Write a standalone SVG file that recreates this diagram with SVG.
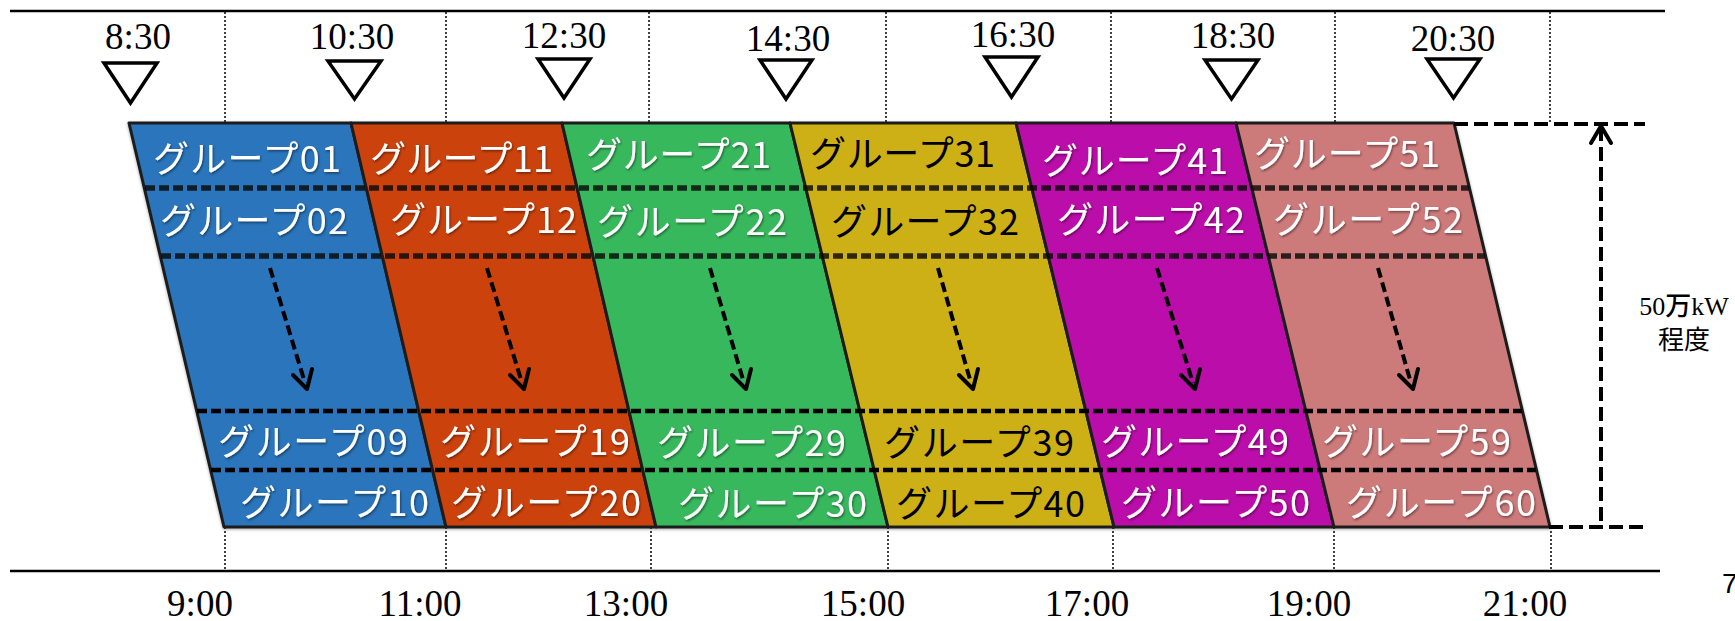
<svg xmlns="http://www.w3.org/2000/svg" width="1735" height="621" viewBox="0 0 1735 621">
<defs>
<style>
.axis{stroke:#000;stroke-width:2.5;fill:none}
.dot{stroke:#111;stroke-width:1.6;stroke-dasharray:2 2;fill:none}
.tick{fill:#fff;stroke:#000;stroke-width:3.5;stroke-linejoin:miter}
.time{font-family:"Liberation Serif","Times New Roman",serif;font-size:37px;fill:#000;text-anchor:middle}
.band{stroke:#1e1e1e;stroke-width:3;stroke-linejoin:round}
.rowU{stroke:#0a0a0a;stroke-opacity:0.82;stroke-width:5.5;stroke-dasharray:10 4;fill:none}
.rowL{stroke:#000;stroke-width:4.5;stroke-dasharray:10 4;fill:none}
.lbl{font-family:"Noto Sans CJK JP","Noto Sans",sans-serif;font-size:36px;fill:#fff;filter:url(#sh)}
.lblk{font-family:"Noto Sans CJK JP","Noto Sans",sans-serif;font-size:36px;fill:#000}
.arr{stroke:#000;stroke-width:4;stroke-dasharray:10 5;fill:none}
.head{stroke:#000;stroke-width:4;fill:none;stroke-linecap:round;stroke-linejoin:round}
.dim{stroke:#000;stroke-width:4;stroke-dasharray:14 6;fill:none}
.side{font-size:26px;fill:#000}
</style>
<filter id="sh" x="-10%" y="-20%" width="120%" height="150%">
<feDropShadow dx="1" dy="1.5" stdDeviation="1" flood-color="#000" flood-opacity="0.45"/>
</filter>
<filter id="bs" x="-5%" y="-5%" width="110%" height="110%">
<feDropShadow dx="0" dy="1" stdDeviation="1.5" flood-color="#000" flood-opacity="0.35"/>
</filter>
</defs>

<g id="axes">
<line class="axis" x1="10" y1="11" x2="1665" y2="11"/>
<line class="axis" x1="10" y1="571" x2="1660" y2="571"/>
<line class="dot" x1="225" y1="12" x2="225" y2="123"/>
<line class="dot" x1="446" y1="12" x2="446" y2="123"/>
<line class="dot" x1="649" y1="12" x2="649" y2="123"/>
<line class="dot" x1="886" y1="12" x2="886" y2="123"/>
<line class="dot" x1="1111" y1="12" x2="1111" y2="123"/>
<line class="dot" x1="1335" y1="12" x2="1335" y2="123"/>
<line class="dot" x1="1550" y1="12" x2="1550" y2="123"/>
<line class="dot" x1="225" y1="527" x2="225" y2="570"/>
<line class="dot" x1="446" y1="527" x2="446" y2="570"/>
<line class="dot" x1="651" y1="527" x2="651" y2="570"/>
<line class="dot" x1="888" y1="527" x2="888" y2="570"/>
<line class="dot" x1="1113" y1="527" x2="1113" y2="570"/>
<line class="dot" x1="1334" y1="527" x2="1334" y2="570"/>
<line class="dot" x1="1551" y1="527" x2="1551" y2="570"/>
</g>

<g id="start-times">
<text class="time" x="138" y="49">8:30</text>
<text class="time" x="352" y="49">10:30</text>
<text class="time" x="564" y="48">12:30</text>
<text class="time" x="788" y="51">14:30</text>
<text class="time" x="1013" y="47">16:30</text>
<text class="time" x="1233" y="48">18:30</text>
<text class="time" x="1453" y="51">20:30</text>
<polygon class="tick" points="104,63 157,63 130.5,103"/>
<polygon class="tick" points="328,61 381,61 354.5,99"/>
<polygon class="tick" points="538,59 590,59 564,98"/>
<polygon class="tick" points="760,60 812,60 786,99"/>
<polygon class="tick" points="985,57 1038,57 1011.5,97"/>
<polygon class="tick" points="1205,60 1258,60 1231.5,99"/>
<polygon class="tick" points="1427,59 1480,59 1453.5,98"/>
</g>

<g id="end-times">
<text class="time" x="200" y="616">9:00</text>
<text class="time" x="420" y="616">11:00</text>
<text class="time" x="626" y="616">13:00</text>
<text class="time" x="863" y="616">15:00</text>
<text class="time" x="1087" y="616">17:00</text>
<text class="time" x="1309" y="616">19:00</text>
<text class="time" x="1525" y="616">21:00</text>
</g>

<g id="bands" filter="url(#bs)">
<polygon id="band-blue" class="band" fill="#2a75bb" points="129,123 351,123 446,527 224,527"/>
<polygon id="band-red" class="band" fill="#cc420a" points="351,123 562,123 656,527 446,527"/>
<polygon id="band-green" class="band" fill="#37b85d" points="562,123 790,123 888,527 656,527"/>
<polygon id="band-yellow" class="band" fill="#cdb014" points="790,123 1016,123 1114,527 888,527"/>
<polygon id="band-magenta" class="band" fill="#bb0aa9" points="1016,123 1236,123 1334,527 1114,527"/>
<polygon id="band-pink" class="band" fill="#cd7a7a" points="1236,123 1454,123 1550,527 1334,527"/>
</g>

<g id="row-lines">
<line class="rowU" x1="145" y1="188" x2="1469" y2="188"/>
<line class="rowU" x1="161" y1="256" x2="1485" y2="256"/>
<line class="rowL" x1="197" y1="411" x2="1522" y2="411"/>
<line class="rowL" x1="211" y1="470" x2="1536" y2="470"/>
</g>

<g id="group-blue">
<text class="lbl" x="153" y="172" textLength="188" lengthAdjust="spacing">グループ01</text>
<text class="lbl" x="160" y="234" textLength="188" lengthAdjust="spacing">グループ02</text>
<text class="lbl" x="218" y="455" textLength="190" lengthAdjust="spacing">グループ09</text>
<text class="lbl" x="240" y="516" textLength="189" lengthAdjust="spacing">グループ10</text>
</g>
<g id="group-red">
<text class="lbl" x="370" y="172" textLength="183" lengthAdjust="spacing">グループ11</text>
<text class="lbl" x="390" y="233" textLength="187" lengthAdjust="spacing">グループ12</text>
<text class="lbl" x="440" y="455" textLength="190" lengthAdjust="spacing">グループ19</text>
<text class="lbl" x="451" y="516" textLength="190" lengthAdjust="spacing">グループ20</text>
</g>
<g id="group-green">
<text class="lbl" x="586" y="168" textLength="185" lengthAdjust="spacing">グループ21</text>
<text class="lbl" x="597" y="235" textLength="190" lengthAdjust="spacing">グループ22</text>
<text class="lbl" x="657" y="456" textLength="189" lengthAdjust="spacing">グループ29</text>
<text class="lbl" x="678" y="517" textLength="189" lengthAdjust="spacing">グループ30</text>
</g>
<g id="group-yellow">
<text class="lblk" x="810" y="167" textLength="185" lengthAdjust="spacing">グループ31</text>
<text class="lblk" x="831" y="235" textLength="188" lengthAdjust="spacing">グループ32</text>
<text class="lblk" x="884" y="456" textLength="190" lengthAdjust="spacing">グループ39</text>
<text class="lblk" x="896" y="517" textLength="189" lengthAdjust="spacing">グループ40</text>
</g>
<g id="group-magenta">
<text class="lbl" x="1042" y="174" textLength="186" lengthAdjust="spacing">グループ41</text>
<text class="lbl" x="1057" y="233" textLength="188" lengthAdjust="spacing">グループ42</text>
<text class="lbl" x="1101" y="455" textLength="188" lengthAdjust="spacing">グループ49</text>
<text class="lbl" x="1121" y="516" textLength="189" lengthAdjust="spacing">グループ50</text>
</g>
<g id="group-pink">
<text class="lbl" x="1254" y="167" textLength="186" lengthAdjust="spacing">グループ51</text>
<text class="lbl" x="1273" y="233" textLength="190" lengthAdjust="spacing">グループ52</text>
<text class="lbl" x="1322" y="455" textLength="189" lengthAdjust="spacing">グループ59</text>
<text class="lbl" x="1346" y="516" textLength="190" lengthAdjust="spacing">グループ60</text>
</g>

<g id="connectors">
<line class="arr" x1="270" y1="268" x2="305" y2="383"/>
<polyline class="head" points="293,375 307,389 312,369"/>
<line class="arr" x1="487" y1="268" x2="522" y2="383"/>
<polyline class="head" points="510,375 524,389 529,369"/>
<line class="arr" x1="710" y1="268" x2="744" y2="383"/>
<polyline class="head" points="732,375 746,389 751,369"/>
<line class="arr" x1="938" y1="268" x2="971" y2="383"/>
<polyline class="head" points="959,375 973,389 978,369"/>
<line class="arr" x1="1157" y1="268" x2="1193" y2="383"/>
<polyline class="head" points="1181,375 1195,389 1200,369"/>
<line class="arr" x1="1378" y1="268" x2="1411" y2="383"/>
<polyline class="head" points="1399,375 1413,389 1418,369"/>
</g>

<g id="dimension">
<line class="dim" x1="1454" y1="124" x2="1645" y2="124"/>
<line class="dim" x1="1549" y1="527" x2="1643" y2="527"/>
<line class="dim" x1="1601" y1="521" x2="1601" y2="130"/>
<polyline class="head" points="1591,143 1601,126 1611,143"/>
<text class="side" x="1684" y="315" text-anchor="middle"><tspan font-family="Liberation Serif, serif">50</tspan><tspan font-family="Noto Sans CJK JP, sans-serif" font-weight="500">万</tspan><tspan font-family="Liberation Serif, serif">kW</tspan></text>
<text class="side" x="1684" y="349" text-anchor="middle" font-family="Noto Sans CJK JP, sans-serif">程度</text>
</g>

<text x="1722" y="593" font-family="Liberation Sans, Arial, sans-serif" font-size="28" fill="#000">7</text>
</svg>
